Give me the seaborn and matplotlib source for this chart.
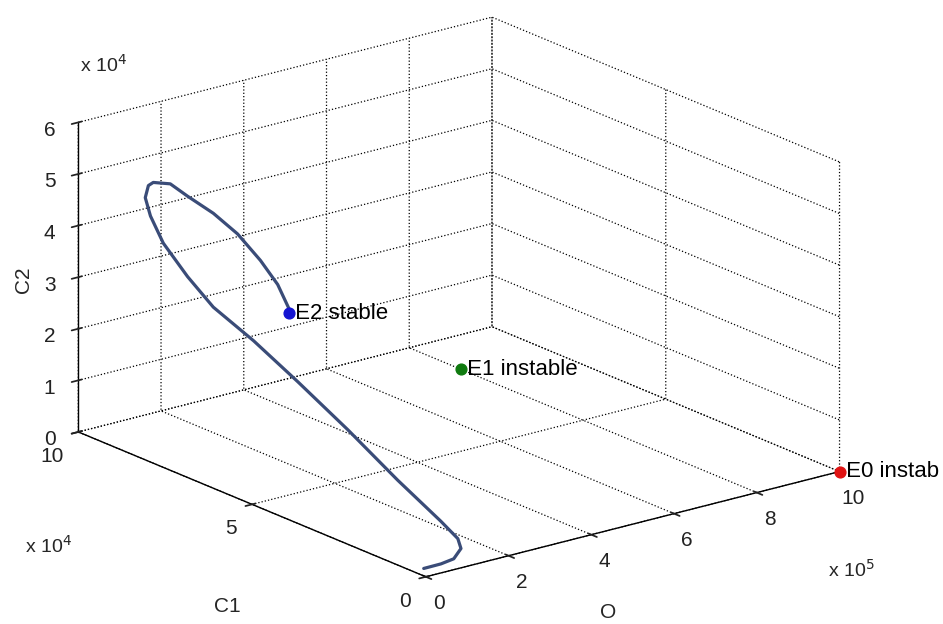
import numpy as np
import matplotlib
matplotlib.use("Agg")
import matplotlib.pyplot as plt
import seaborn as sns

O_traj = [1.0e4, 4.5e4, 7.5e4, 9.5e4, 1.0e5, 1.0e5, 9.0e4, 8.0e4, 7.0e4, 6.0e4,
          5.0e4, 4.5e4, 4.0e4, 3.5e4, 3.0e4, 3.0e4, 3.0e4, 3.0e4, 3.2e4, 3.5e4,
          3.8e4, 4.2e4, 4.6e4, 5.0e4, 5.0e4]
C1_traj = [1.8e3, 1.0e3, 9.0e2, 1.2e3, 2.7e3, 7.6e3, 1.88e4, 3.20e4, 4.52e4, 5.67e4,
           6.71e4, 7.39e4, 8.03e4, 8.34e4, 8.43e4, 8.34e4, 8.20e4, 7.71e4, 7.24e4, 6.53e4,
           5.87e4, 5.26e4, 4.81e4, 4.54e4, 4.54e4]
C2_traj = [9.0e2, 1.3e3, 1.7e3, 3.2e3, 4.6e3, 6.6e3, 1.16e4, 1.79e4, 2.37e4, 2.86e4,
           3.24e4, 3.65e4, 4.13e4, 4.58e4, 4.92e4, 5.18e4, 5.28e4, 5.39e4, 5.28e4, 5.14e4,
           4.92e4, 4.57e4, 4.22e4, 3.83e4, 3.73e4]

# equilibria
eq_names = ["E2 stable", "E1 instable", "E0 instab"]
eq_O = [0.5e5, 8.0e5, 10.0e5]
eq_C1 = [4.54e4, 8.5e4, 0.0]
eq_C2 = [3.73e4, 0.0, 0.0]
eq_colors = ["#1414d2", "#0f7a0f", "#e01414"]

o_ticks = [0, 2, 4, 6, 8, 10]
c1_ticks = [0, 5, 10]
c2_ticks = [0, 1, 2, 3, 4, 5, 6]

sns.set_theme(style="white")
plt.rcParams["font.family"] = ["Liberation Sans", "DejaVu Sans"]
plt.rcParams["grid.linestyle"] = ":"
plt.rcParams["grid.color"] = "black"
plt.rcParams["grid.linewidth"] = 0.9

fig = plt.figure(figsize=(9.43, 6.24), dpi=100)
ax = fig.add_axes([-0.1345, -0.145, 1.219, 1.303], projection="3d")
ax.set_proj_type("ortho")
ax.view_init(elev=19, azim=-128)
ax.set_box_aspect((0.93, 1, 0.58))

sO, sC1, sC2 = 1e5, 1e4, 1e4
ax.plot(np.array(O_traj) / sO, np.array(C1_traj) / sC1, np.array(C2_traj) / sC2,
        color="#3a4c78", lw=2.3)
for name, o, c1, c2, col in zip(eq_names, eq_O, eq_C1, eq_C2, eq_colors):
    ax.scatter([o / sO], [c1 / sC1], [c2 / sC2], color=col, s=60, depthshade=False)
    ax.text(o / sO, c1 / sC1, c2 / sC2, " " + name, fontsize=16, color="black",
            va="center", ha="left")

ax.set_xlim(0, 10)
ax.set_ylim(0, 10)
ax.set_zlim(0, 6)
ax.set_xticks(o_ticks)
ax.set_yticks(c1_ticks)
ax.set_zticks(c2_ticks)
ax.tick_params(labelsize=15, colors="#222222")
ax.tick_params(axis="y", pad=3)
for t in ax.get_yticklabels():
    t.set_ha("right")
for axis in (ax.xaxis, ax.yaxis, ax.zaxis):
    axis.set_pane_color((1, 1, 1, 0))
    axis.pane.set_edgecolor((1, 1, 1, 0))
    axis._axinfo["grid"].update(color="black", linestyle=":", linewidth=0.9)
    axis.line.set_color("black")
    axis.line.set_linewidth(1.0)
    axis.offsetText.set_visible(False)
    axis.label.set_visible(False)

# axis names and exponent labels, MATLAB style
fig.text(608 / 943, 1 - 613 / 624, "O", fontsize=15, ha="center", va="center")
fig.text(227 / 943, 1 - 607 / 624, "C1", fontsize=15, ha="center", va="center")
fig.text(23 / 943, 1 - 280 / 624, "C2", fontsize=15, ha="center", va="center",
         rotation=90)
fig.text(80 / 943, 1 - 72 / 624, r"x 10$^4$", fontsize=14, va="baseline")
fig.text(25 / 943, 1 - 553 / 624, r"x 10$^4$", fontsize=14, va="baseline")
fig.text(828 / 943, 1 - 577 / 624, r"x 10$^5$", fontsize=14, va="baseline")

fig.savefig("out.png", dpi=100)
